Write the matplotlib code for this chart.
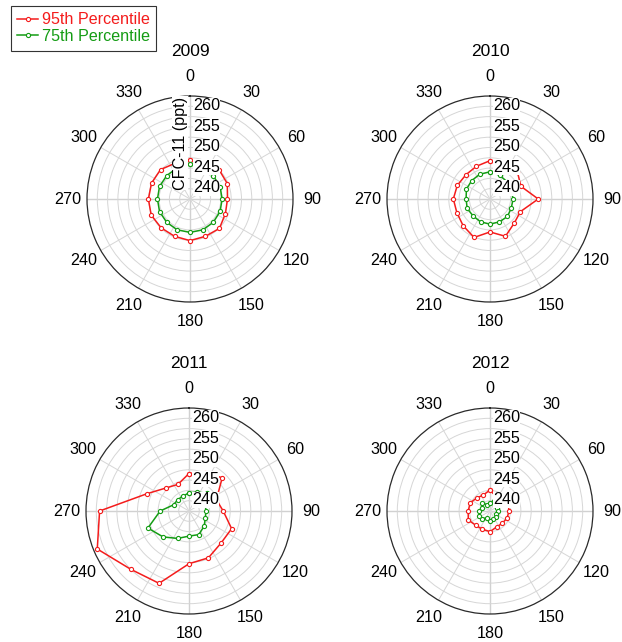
import numpy as np
import matplotlib
matplotlib.use("Agg")
import matplotlib.pyplot as plt
from matplotlib.lines import Line2D

plt.rcParams["font.family"] = ["Liberation Sans", "DejaVu Sans"]

# Wind direction bins (degrees, clockwise from north)
wind_dir = [0, 22.5, 45, 67.5, 90, 112.5, 135, 157.5,
            180, 202.5, 225, 247.5, 270, 292.5, 315, 337.5]

years = ["2009", "2010", "2011", "2012"]

# CFC-11 mixing ratio percentiles per direction bin (ppt)
p95_2009 = [244.5, 244.6, 245.0, 244.8, 244.1, 244.3, 245.1, 244.8,
            245.1, 244.8, 244.9, 245.2, 245.1, 245.1, 245.1, 244.4]
p75_2009 = [243.4, 243.2, 243.0, 242.9, 242.8, 242.9, 243.0, 243.1,
            243.1, 243.1, 243.0, 243.0, 242.9, 243.0, 243.0, 243.2]

p95_2010 = [244.3, 244.5, 244.4, 243.1, 246.7, 243.0, 243.3, 244.8,
            243.0, 245.1, 244.2, 243.7, 243.9, 243.6, 243.3, 243.6]
p75_2010 = [241.6, 241.2, 240.9, 240.6, 240.6, 240.6, 241.0, 241.0,
            241.1, 241.0, 240.8, 241.0, 240.8, 241.2, 241.3, 241.5]

p95_2011 = [244.1, 245.1, 246.4, 242.2, 243.3, 246.2, 246.0, 247.3,
            247.8, 254.0, 255.0, 259.1, 256.7, 246.0, 242.9, 242.0]
p75_2011 = [239.4, 240.0, 241.1, 239.3, 239.1, 239.3, 240.2, 241.2,
            241.1, 242.2, 243.9, 245.8, 242.0, 239.0, 238.9, 238.9]

p95_2012 = [240.1, 238.8, 239.6, 239.8, 239.6, 239.5, 239.2, 239.2,
            240.0, 239.8, 239.9, 240.7, 240.3, 240.2, 239.5, 239.2]
p75_2012 = [237.0, 237.6, 237.5, 236.8, 237.0, 236.6, 236.9, 237.2,
            237.4, 236.8, 237.6, 238.0, 237.6, 237.2, 237.8, 236.6]

series_95 = [p95_2009, p95_2010, p95_2011, p95_2012]
series_75 = [p75_2009, p75_2010, p75_2011, p75_2012]

ring_values = [237.5, 240, 242.5, 245, 247.5, 250, 252.5, 255, 257.5]
ring_labels = [240, 245, 250, 255, 260]
theta_labels = [0, 30, 60, 90, 120, 150, 180, 210, 240, 270, 300, 330]
r_min, r_max = 235, 260

RED = "#f41c1c"
GREEN = "#149c14"
FS = 11.6

W, H = 622, 642
fig = plt.figure(figsize=(W / 100, H / 100), dpi=100)

# circle centres and radius in pixels
centres = [(190, 199), (490, 199), (189, 511), (490, 511)]
rpx = 103


def polar_panel(cx, cy):
    rect = [(cx - rpx) / W, (H - (cy + rpx)) / H, 2 * rpx / W, 2 * rpx / H]
    ax = fig.add_axes(rect, projection="polar")
    ax.set_theta_zero_location("N")
    ax.set_theta_direction(-1)
    ax.set_ylim(r_min, r_max)
    ax.set_yticks(ring_values)
    ax.set_yticklabels([])
    ax.set_xticks(np.deg2rad(theta_labels))
    ax.set_xticklabels([])
    ax.tick_params(length=0)
    ax.grid(True, color="#d6d6d6", lw=0.7)
    ax.spines["polar"].set_color("#2a2a2a")
    ax.spines["polar"].set_linewidth(0.9)
    for a in (0, 90, 180, 270):
        ax.axvline(np.deg2rad(a), color="#555555", lw=0.8, zorder=1.5)
    for t in theta_labels:
        ang = np.deg2rad(t)
        ax.text(0.5 + 0.5 * 1.19 * np.sin(ang), 0.5 + 0.5 * 1.19 * np.cos(ang),
                str(t), transform=ax.transAxes, ha="center", va="center",
                fontsize=FS)
    for v in ring_labels:
        ax.annotate(str(v), xy=(0, v), xycoords="data", xytext=(3, -2),
                    textcoords="offset pixels", ha="left", va="top",
                    fontsize=FS, zorder=6,
                    bbox=dict(fc="white", ec="none", pad=0.2))
    return ax


def closed(vals):
    return list(vals) + [vals[0]]


theta = np.deg2rad(closed(wind_dir))
axes = []
for (cx, cy), year, s95, s75 in zip(centres, years, series_95, series_75):
    ax = polar_panel(cx, cy)
    ax.plot(theta, closed(s95), "-o", color=RED, lw=1.1, ms=3,
            mfc="white", mew=0.8, zorder=3, clip_on=False)
    ax.plot(theta, closed(s75), "-o", color=GREEN, lw=1.1, ms=3,
            mfc="white", mew=0.8, zorder=3, clip_on=False)
    ax.text(0.5, 0.5 + 0.5 * 147 / rpx, year, transform=ax.transAxes,
            ha="center", va="center", fontsize=12.5)
    axes.append(ax)

axes[0].text(0.4515, 0.772, "CFC-11 (ppt)", rotation=90,
             transform=axes[0].transAxes, ha="center", va="center",
             fontsize=FS, zorder=6, bbox=dict(fc="white", ec="none", pad=0.1))

handles = [
    Line2D([], [], color=RED, lw=1.1, marker="o", ms=3, mfc="white", mew=0.8),
    Line2D([], [], color=GREEN, lw=1.1, marker="o", ms=3, mfc="white", mew=0.8),
]
leg = fig.legend(handles, ["95th Percentile", "75th Percentile"],
                 loc="upper left", bbox_to_anchor=(11 / W, 1 - 6 / H),
                 frameon=True, fancybox=False, edgecolor="#333333",
                 framealpha=1, fontsize=FS, handlelength=1.3,
                 handletextpad=0.2, borderpad=0.4, labelspacing=0.1,
                 borderaxespad=0, numpoints=1, labelcolor="linecolor")
leg.get_frame().set_linewidth(0.8)

fig.savefig("out.png", dpi=100)
